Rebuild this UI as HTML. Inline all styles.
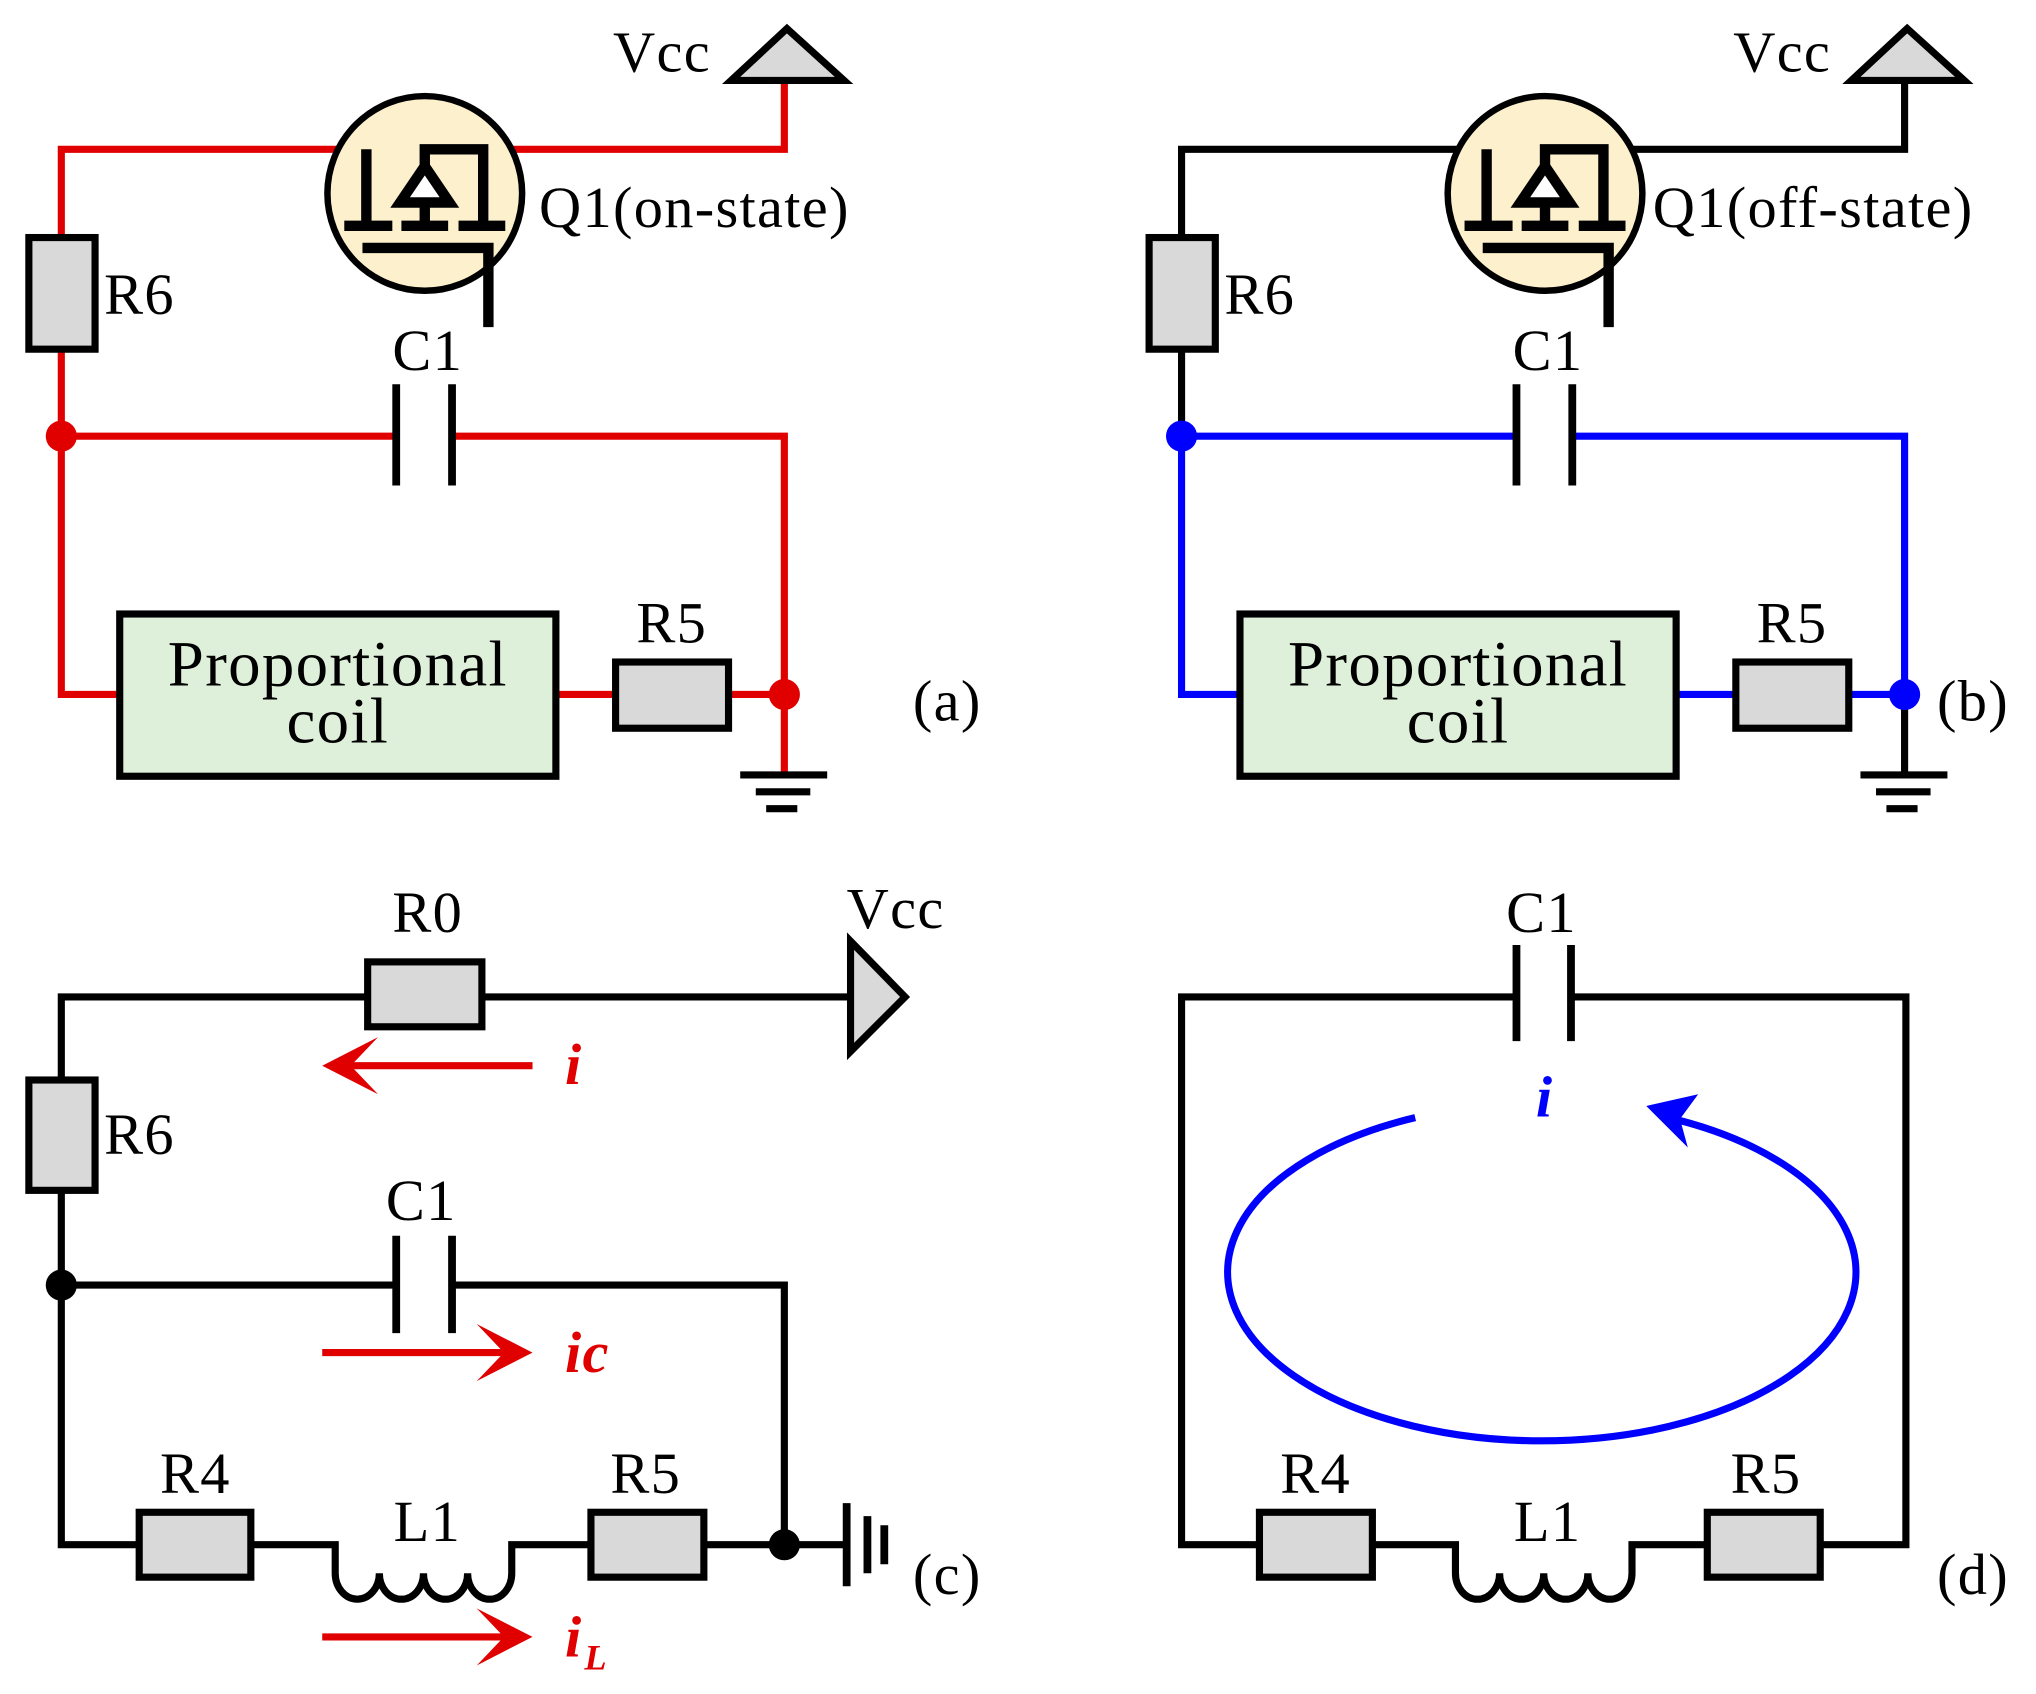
<!DOCTYPE html>
<html><head><meta charset="utf-8"><style>html,body{margin:0;padding:0;background:#fff}svg{display:block}</style></head><body>
<svg width="2036" height="1694" viewBox="0 0 1568 1305" xmlns="http://www.w3.org/2000/svg" font-family="Liberation Serif, serif" font-size="45" letter-spacing="1">
<defs>
<g id="mos">
<circle cx="327" cy="149" r="75" fill="#fdf0cc" stroke="#000" stroke-width="5"/>
<g stroke="#000" stroke-width="8" fill="none" stroke-linecap="butt">
<path d="M282,115 V175"/>
<path d="M265,174 H302 M309,174 H345 M353,174 H389"/>
<path d="M279,191 H376 V252"/>
<path d="M372,174 V115 H327 V128"/>
<path d="M327,156 V175"/>
<polygon points="327,128 308,156 346,156" fill="#fff"/>
</g>
</g>
</defs>

<!-- (a) -->
<g stroke="#e00000" stroke-width="5.5" fill="none">
<path d="M280,115 H47 V183 M47,269 V535 H92 M428,535 H474 M561,535 H604 M47,336 H305 M348,336 H604 V597 M372,115 H604 V62"/>
</g>
<use href="#mos"/>
<polygon points="563,62 650,62 606,22" fill="#d9d9d9" stroke="#000" stroke-width="5.5"/>
<rect x="22" y="183" width="51" height="86" fill="#d9d9d9" stroke="#000" stroke-width="5.5"/>
<path d="M305,296 V374 M348,296 V374" stroke="#000" stroke-width="6"/>
<rect x="92" y="473" width="336" height="125" fill="#dff0da" stroke="#000" stroke-width="5.5"/>
<rect x="474" y="510" width="87" height="51" fill="#d9d9d9" stroke="#000" stroke-width="5.5"/>
<circle cx="47" cy="336" r="12" fill="#e00000"/>
<circle cx="604" cy="535" r="12" fill="#e00000"/>
<path d="M570,597 H637 M582,610 H624 M590,623 H614" stroke="#000" stroke-width="5.5"/>
<text x="472" y="55">Vcc</text>
<text x="415" y="175">Q1(on-state)</text>
<text x="80" y="242">R6</text>
<text x="302" y="285">C1</text>
<text x="490" y="495">R5</text>
<text x="703" y="555">(a)</text>
<text x="260" y="528" text-anchor="middle" font-size="50">Proportional</text>
<text x="260" y="572" text-anchor="middle" font-size="50">coil</text>

<!-- (b) -->
<g transform="translate(863,0)">
<g stroke="#000" stroke-width="5.5" fill="none">
<path d="M280,115 H47 V183 M47,269 V336 M372,115 H604 V62 M604,535 V597"/>
</g>
<g stroke="#0000ff" stroke-width="5.5" fill="none">
<path d="M47,336 V535 H92 M428,535 H474 M561,535 H604 M47,336 H305 M348,336 H604 V535"/>
</g>
<use href="#mos"/>
<polygon points="563,62 650,62 606,22" fill="#d9d9d9" stroke="#000" stroke-width="5.5"/>
<rect x="22" y="183" width="51" height="86" fill="#d9d9d9" stroke="#000" stroke-width="5.5"/>
<path d="M305,296 V374 M348,296 V374" stroke="#000" stroke-width="6"/>
<rect x="92" y="473" width="336" height="125" fill="#dff0da" stroke="#000" stroke-width="5.5"/>
<rect x="474" y="510" width="87" height="51" fill="#d9d9d9" stroke="#000" stroke-width="5.5"/>
<circle cx="47" cy="336" r="12" fill="#0000ff"/>
<circle cx="604" cy="535" r="12" fill="#0000ff"/>
<path d="M570,597 H637 M582,610 H624 M590,623 H614" stroke="#000" stroke-width="5.5"/>
<text x="472" y="55">Vcc</text>
<text x="410" y="175">Q1(off-state)</text>
<text x="80" y="242">R6</text>
<text x="302" y="285">C1</text>
<text x="490" y="495">R5</text>
<text x="629" y="555">(b)</text>
<text x="260" y="528" text-anchor="middle" font-size="50">Proportional</text>
<text x="260" y="572" text-anchor="middle" font-size="50">coil</text>
</g>

<!-- (c) -->
<g stroke="#000" stroke-width="5.5" fill="none">
<path d="M283,768 H47 V832 M371,768 H655 M47,917 V1190 H107 M193,1190 H258 V1212 a17,20 0 0 0 34,0 a17,20 0 0 0 34,0 a17,20 0 0 0 34,0 a17,20 0 0 0 34,0 V1190 H455 M542,1190 H652 M47,990 H305 M348,990 H604 V1190"/>
<path d="M652,1158 V1222 M668,1168 V1212 M681,1175 V1205" stroke-width="6"/>
</g>
<polygon points="655,725 655,810 697,768" fill="#d9d9d9" stroke="#000" stroke-width="5.5"/>
<rect x="283" y="741" width="88" height="50" fill="#d9d9d9" stroke="#000" stroke-width="5.5"/>
<rect x="22" y="832" width="51" height="85" fill="#d9d9d9" stroke="#000" stroke-width="5.5"/>
<rect x="107" y="1165" width="86" height="50" fill="#d9d9d9" stroke="#000" stroke-width="5.5"/>
<rect x="455" y="1165" width="87" height="50" fill="#d9d9d9" stroke="#000" stroke-width="5.5"/>
<path d="M305,952 V1027 M348,952 V1027" stroke="#000" stroke-width="6"/>
<circle cx="47" cy="990" r="12" fill="#000"/>
<circle cx="604" cy="1190" r="12" fill="#000"/>
<g stroke="#e00000" stroke-width="5.5">
<path d="M410,821 H265 M248,1042 H395 M248,1261 H395"/>
</g>
<g fill="#e00000">
<polygon points="248,821 291,799 270,821 291,843"/>
<polygon points="410,1042 367,1020 388,1042 367,1064"/>
<polygon points="410,1261 367,1239 388,1261 367,1283"/>
</g>
<text x="652" y="715">Vcc</text>
<text x="302" y="718">R0</text>
<text x="80" y="889">R6</text>
<text x="297" y="940">C1</text>
<text x="123" y="1150">R4</text>
<text x="303" y="1187">L1</text>
<text x="470" y="1150">R5</text>
<text x="703" y="1228">(c)</text>
<g fill="#e00000" font-style="italic" font-weight="bold">
<text x="435" y="835">i</text>
<text x="435" y="1057">ic</text>
<text x="435" y="1276">i</text>
<text x="450" y="1286" font-size="28">L</text>
</g>

<!-- (d) -->
<g stroke="#000" stroke-width="5.5" fill="none">
<path d="M1168,768 H910 V1190 H970 M1057,1190 H1121 V1212 a17,20 0 0 0 34,0 a17,20 0 0 0 34,0 a17,20 0 0 0 34,0 a17,20 0 0 0 34,0 V1190 H1315 M1402,1190 H1468 V768 H1210"/>
</g>
<path d="M1168,728 V802 M1210,728 V802" stroke="#000" stroke-width="6"/>
<rect x="970" y="1165" width="87" height="50" fill="#d9d9d9" stroke="#000" stroke-width="5.5"/>
<rect x="1315" y="1165" width="87" height="50" fill="#d9d9d9" stroke="#000" stroke-width="5.5"/>
<path d="M1090,861 A242,130 0 1 0 1285,861" stroke="#0000ff" stroke-width="5.5" fill="none"/>
<polygon points="1268,852 1308,843 1294,862 1300,884" fill="#0000ff"/>
<text x="1160" y="718">C1</text>
<text x="986" y="1150">R4</text>
<text x="1166" y="1187">L1</text>
<text x="1333" y="1150">R5</text>
<text x="1492" y="1228">(d)</text>
<text x="1183" y="860" fill="#0000ff" font-style="italic" font-weight="bold">i</text>
</svg>
</body></html>
